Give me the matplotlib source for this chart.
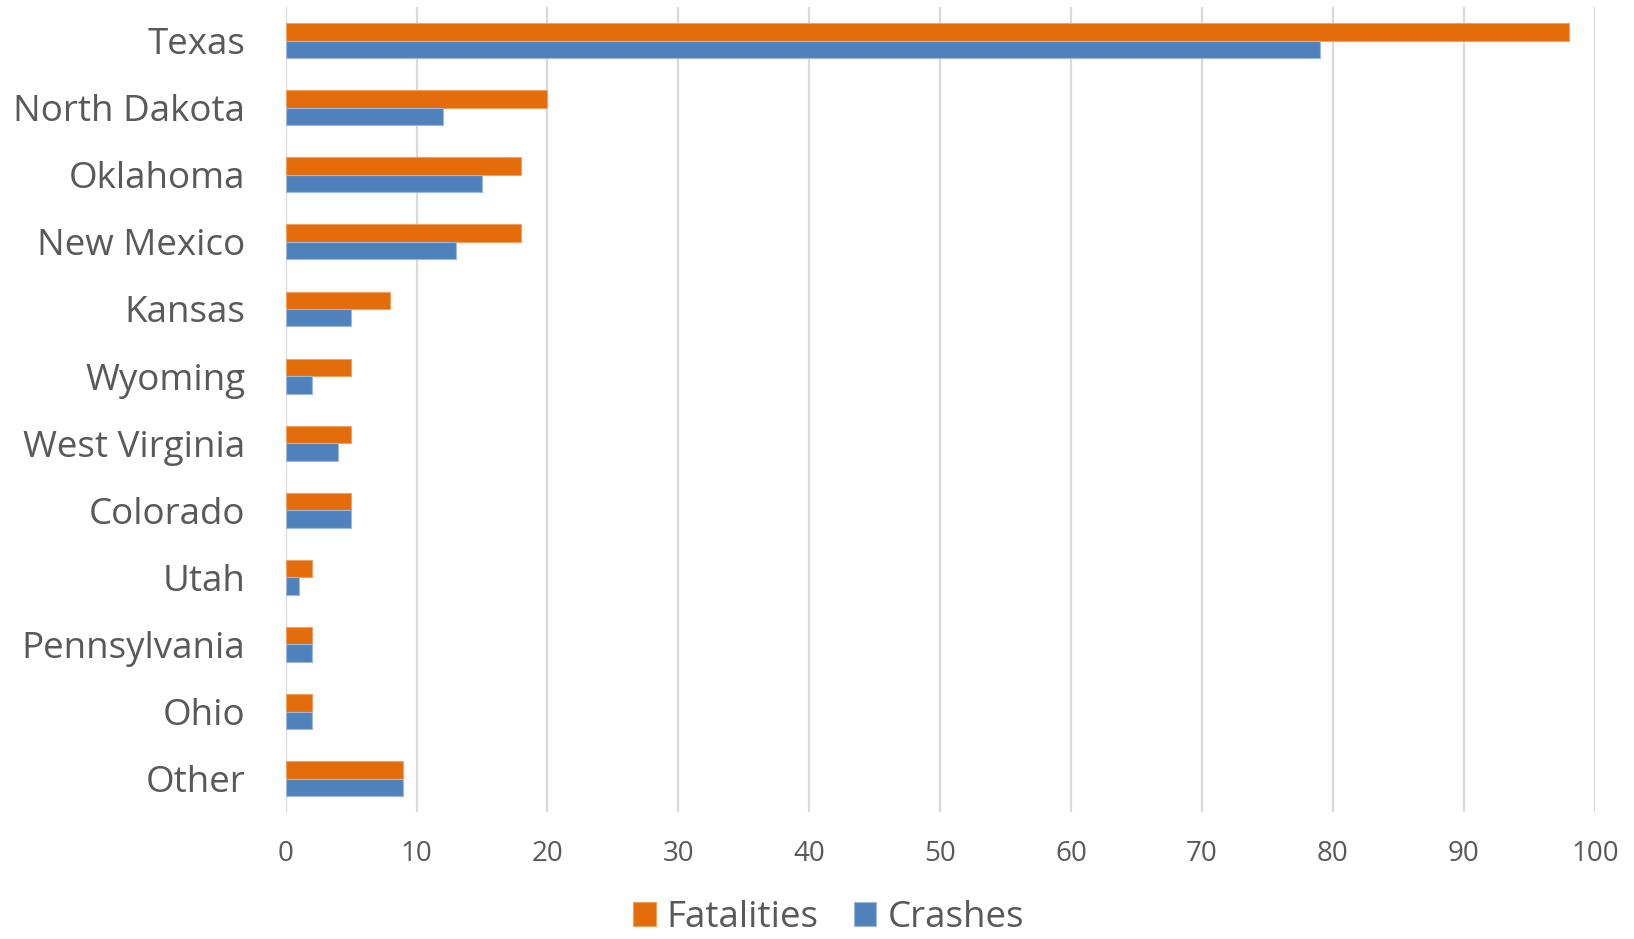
import matplotlib
matplotlib.use("Agg")
import matplotlib.pyplot as plt
import numpy as np

states = ["Texas", "North Dakota", "Oklahoma", "New Mexico", "Kansas", "Wyoming",
          "West Virginia", "Colorado", "Utah", "Pennsylvania", "Ohio", "Other"]
fatalities = [98, 20, 18, 18, 8, 5, 5, 5, 2, 2, 2, 9]
crashes = [79, 12, 15, 13, 5, 2, 4, 5, 1, 2, 2, 9]
xticks = [0, 10, 20, 30, 40, 50, 60, 70, 80, 90, 100]

plt.rcParams['font.family'] = ['Open Sans', 'DejaVu Sans']
text_color = "#595959"
orange = "#E46C0A"
blue = "#4F81BD"

fig = plt.figure(figsize=(16.34, 9.39), dpi=100)
ax = fig.add_axes([0.1748, 0.135, 0.8012, 0.8575])

n = len(states)
y = np.arange(n)
h = 0.26
ax.barh(y - h / 2, fatalities, height=h, color=orange, edgecolor="#F0A060", linewidth=0.8,
        label="Fatalities", zorder=3)
ax.barh(y + h / 2, crashes, height=h, color=blue, edgecolor="#9DB8DA", linewidth=0.8,
        label="Crashes", zorder=3)

ax.set_ylim(n - 0.5, -0.5)
ax.set_xlim(0, 100)
ax.set_yticks(y)
ax.set_yticklabels(states, fontsize=26.5, color=text_color)
ax.set_xticks(xticks)
ax.set_xticklabels([str(v) for v in xticks], fontsize=20, color=text_color)
ax.tick_params(axis="both", length=0)
ax.tick_params(axis="y", pad=29)
ax.tick_params(axis="x", pad=20)
ax.xaxis.grid(True, color="#D9D9D9", linewidth=1.6, zorder=0)
ax.set_axisbelow(True)
for s in ax.spines.values():
    s.set_visible(False)

leg = fig.legend(loc="center", bbox_to_anchor=(0.507, 0.022), ncol=2, frameon=False,
                 fontsize=26.5, handlelength=0.62, handleheight=0.62, handletextpad=0.3,
                 columnspacing=0.95, borderpad=0)
for t in leg.get_texts():
    t.set_color(text_color)

fig.savefig("out.png", dpi=100)
